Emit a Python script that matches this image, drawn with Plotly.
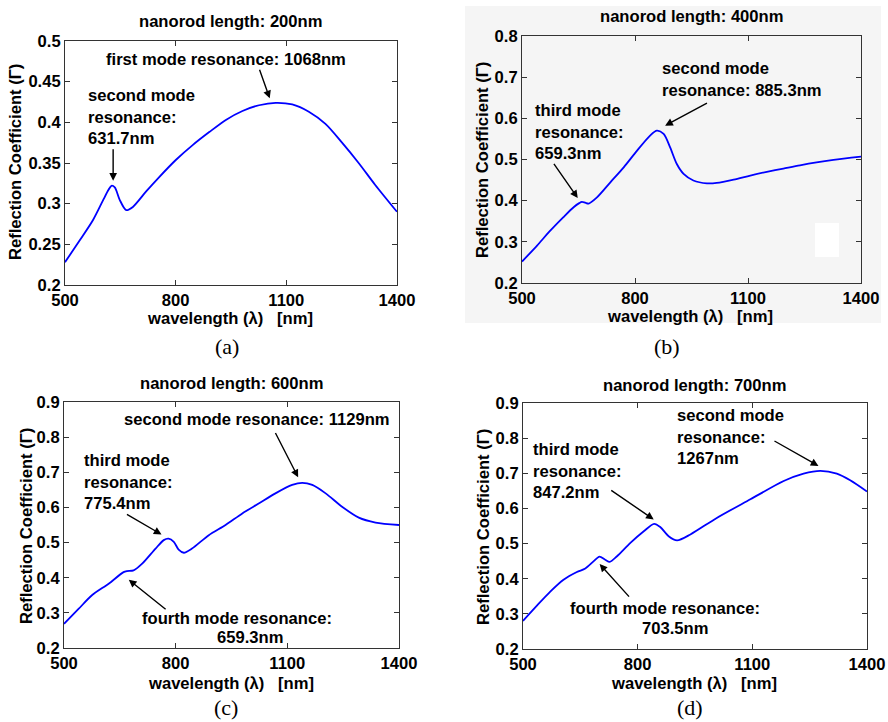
import plotly.graph_objects as go

W, H = 888, 722

# ---------------- data ----------------
wl_a = [500, 540, 576, 603, 618, 626, 635, 648, 666, 684, 720, 756, 801, 846, 891,
        936, 981, 1026, 1071, 1116, 1161, 1206, 1251, 1296, 1341, 1400]
r_a = [0.228, 0.255, 0.280, 0.304, 0.317, 0.322, 0.320, 0.305, 0.292, 0.296, 0.315,
       0.333, 0.354, 0.372, 0.388, 0.403, 0.414, 0.421, 0.424, 0.422, 0.413, 0.398,
       0.375, 0.350, 0.323, 0.290]

wl_b = [500, 540, 575, 610, 637, 652, 659, 668, 677, 699, 734, 770, 805, 840, 858,
        876, 893, 911, 929, 955, 991, 1017, 1062, 1106, 1150, 1194, 1238, 1282, 1327, 1400]
r_b = [0.252, 0.291, 0.327, 0.360, 0.384, 0.394, 0.397, 0.395, 0.393, 0.408, 0.444,
       0.481, 0.521, 0.558, 0.570, 0.562, 0.530, 0.489, 0.465, 0.449, 0.442, 0.443,
       0.451, 0.461, 0.470, 0.478, 0.486, 0.493, 0.499, 0.507]

wl_c = [500, 539, 575, 620, 660, 669, 687, 710, 746, 768, 781, 795, 808, 822, 844,
        889, 934, 979, 1023, 1068, 1113, 1140, 1167, 1203, 1247, 1292, 1337, 1400]
r_c = [0.269, 0.311, 0.350, 0.383, 0.416, 0.419, 0.421, 0.440, 0.483, 0.507, 0.511,
       0.502, 0.480, 0.471, 0.483, 0.521, 0.550, 0.583, 0.611, 0.640, 0.664, 0.670,
       0.664, 0.640, 0.602, 0.571, 0.557, 0.550]

wl_d = [500, 537, 572, 606, 641, 663, 685, 700, 715, 727, 746, 781, 816, 843, 859,
        881, 903, 938, 1007, 1095, 1182, 1234, 1278, 1321, 1356, 1400]
r_d = [0.280, 0.324, 0.364, 0.397, 0.419, 0.429, 0.450, 0.463, 0.454, 0.448, 0.464,
       0.502, 0.535, 0.556, 0.547, 0.521, 0.509, 0.526, 0.573, 0.626, 0.678, 0.699,
       0.707, 0.699, 0.680, 0.648]

lengths = ["200nm", "400nm", "600nm", "700nm"]
captions = ["(a)", "(b)", "(c)", "(d)"]
x_ticks = [500, 800, 1100, 1400]
x_ticktext = ["500", "800", "1100", "1400"]
y_ticks_a = [0.2, 0.25, 0.3, 0.35, 0.4, 0.45, 0.5]
y_ticktext_a = ["0.2", "0.25", "0.3", "0.35", "0.4", "0.45", "0.5"]
y_ticks_b = [0.2, 0.3, 0.4, 0.5, 0.6, 0.7, 0.8]
y_ticktext_b = ["0.2", "0.3", "0.4", "0.5", "0.6", "0.7", "0.8"]
y_ticks_cd = [0.2, 0.3, 0.4, 0.5, 0.6, 0.7, 0.8, 0.9]
y_ticktext_cd = ["0.2", "0.3", "0.4", "0.5", "0.6", "0.7", "0.8", "0.9"]

# annotation texts: (text, x, y, anchor)
labels_a = [("first mode resonance: 1068nm", 936, 0.4775, "center"),
            ("second mode<br>resonance:<br>631.7nm", 557, 0.407, "left")]
arrows_a = [((1026, 0.4664), (1055, 0.4295)), ((630.5, 0.3689), (630.5, 0.3283))]

labels_b = [("second mode<br>resonance: 885.3nm", 867, 0.6955, "left"),
            ("third mode<br>resonance:<br>659.3nm", 529, 0.566, "left")]
arrows_b = [((995, 0.6389), (880, 0.5822)), ((582, 0.4931), (648, 0.4065))]

labels_c = [("second mode resonance: 1129nm", 1019, 0.8495, "center"),
            ("third mode<br>resonance:<br>775.4nm", 548, 0.6733, "left"),
            ("fourth mode resonance:", 965, 0.2829, "center"),
            ("659.3nm", 1001, 0.2286, "center")]
arrows_c = [((1066, 0.8162), (1129, 0.6857)), ((665, 0.5829), (762, 0.5229)),
            ((777, 0.3067), (674, 0.3943))]

labels_d = [("second mode<br>resonance:<br>1267nm", 897, 0.8038, "left"),
            ("third mode<br>resonance:<br>847.2nm", 522, 0.7067, "left"),
            ("fourth mode resonance:", 872, 0.3143, "center"),
            ("703.5nm", 897, 0.259, "center")]
arrows_d = [((1154, 0.7943), (1273, 0.721)), ((727, 0.6543), (842, 0.5686)),
            ((781, 0.3448), (700.5, 0.4419))]

# ---------------- layout helpers ----------------
FONT = "Arial, 'Liberation Sans', sans-serif"
SERIF = "'Times New Roman', 'Liberation Serif', serif"
FS = 16.6

# plot boxes in pixels: (left, top, right, bottom)
boxes = [(65, 41, 397, 285), (522, 36, 861, 283), (64, 402, 399, 648), (523, 403, 867, 649)]


def px(x):
    return x / W


def py(y):
    return 1 - y / H


fig = go.Figure()

panels = [
    (wl_a, r_a, [0.2, 0.5], y_ticks_a, y_ticktext_a, labels_a, arrows_a),
    (wl_b, r_b, [0.2, 0.8], y_ticks_b, y_ticktext_b, labels_b, arrows_b),
    (wl_c, r_c, [0.2, 0.9], y_ticks_cd, y_ticktext_cd, labels_c, arrows_c),
    (wl_d, r_d, [0.2, 0.9], y_ticks_cd, y_ticktext_cd, labels_d, arrows_d),
]

bold = dict(family=FONT, size=FS, color="black", weight="bold")

annotations = []
axis_common = dict(showgrid=False, zeroline=False, showline=True, linecolor="#333333",
                   linewidth=1, mirror="ticks", ticks="inside", ticklen=5,
                   tickcolor="#333333", automargin=False, tickfont=bold)

for i, (wl, r, yr, yt, ytt, labels, arrows) in enumerate(panels):
    n = "" if i == 0 else str(i + 1)
    xa, ya = "x" + n, "y" + n
    l, t, rr, b = boxes[i]
    fig.add_trace(go.Scatter(x=wl, y=r, mode="lines", xaxis=xa, yaxis=ya,
                             line=dict(color="#0000ff", width=1.8, shape="spline",
                                       smoothing=0.8),
                             showlegend=False, hoverinfo="skip"))
    fig.update_layout(**{
        "xaxis" + n: dict(domain=[px(l), px(rr)], anchor=ya, range=[500, 1400],
                          tickvals=x_ticks, ticktext=x_ticktext, **axis_common),
        "yaxis" + n: dict(domain=[py(b), py(t)], anchor=xa, range=yr,
                          tickvals=yt, ticktext=ytt, **axis_common),
    })
    for text, x, y, anc in labels:
        annotations.append(dict(text=text, x=x, y=y, xref=xa, yref=ya, showarrow=False,
                                xanchor=anc, yanchor="middle", align=anc, font=bold))
    for (x0, y0), (x1, y1) in arrows:
        annotations.append(dict(text="", x=x1, y=y1, ax=x0, ay=y0, xref=xa, yref=ya,
                                axref=xa, ayref=ya, showarrow=True, arrowhead=2,
                                arrowsize=1.1, arrowwidth=1.4, arrowcolor="black"))

# titles, axis titles, captions
title_pos = [(230, 21), (691, 17), (231, 383), (694, 385)]
xlab_pos = [(230, 318), (690, 316), (231, 683), (694, 683)]
ylab_pos = [(16, 162), (482, 160), (26, 526), (483, 527)]
cap_pos = [(227, 346), (667, 346), (226, 707), (690, 707)]
for i in range(4):
    annotations.append(dict(text="nanorod length: " + lengths[i], x=px(title_pos[i][0]),
                            y=py(title_pos[i][1]), xref="paper", yref="paper",
                            showarrow=False, xanchor="center", yanchor="middle",
                            font=bold))
    annotations.append(dict(text="wavelength (λ)   [nm]", x=px(xlab_pos[i][0]),
                            y=py(xlab_pos[i][1]), xref="paper", yref="paper",
                            showarrow=False, xanchor="center", yanchor="middle",
                            font=bold))
    annotations.append(dict(text="Reflection Coefficient (Γ)", x=px(ylab_pos[i][0]),
                            y=py(ylab_pos[i][1]), xref="paper", yref="paper",
                            showarrow=False, xanchor="center", yanchor="middle",
                            textangle=-90, font=bold))
    annotations.append(dict(text=captions[i], x=px(cap_pos[i][0]), y=py(cap_pos[i][1]),
                            xref="paper", yref="paper", showarrow=False,
                            xanchor="center", yanchor="middle",
                            font=dict(family=SERIF, size=22, color="black")))

shapes = [
    dict(type="rect", xref="paper", yref="paper", x0=px(465), x1=px(881), y0=py(323),
         y1=py(6), fillcolor="#f5f5f5", line=dict(width=0), layer="below"),
    dict(type="rect", xref="paper", yref="paper", x0=px(815), x1=px(839), y0=py(257),
         y1=py(223), fillcolor="#ffffff", line=dict(width=0), layer="below"),
]

fig.update_layout(width=W, height=H, autosize=False,
                  margin=dict(l=0, r=0, t=0, b=0, pad=0),
                  paper_bgcolor="white", plot_bgcolor="rgba(0,0,0,0)",
                  annotations=annotations, shapes=shapes, showlegend=False)

fig.write_html("out.html")
